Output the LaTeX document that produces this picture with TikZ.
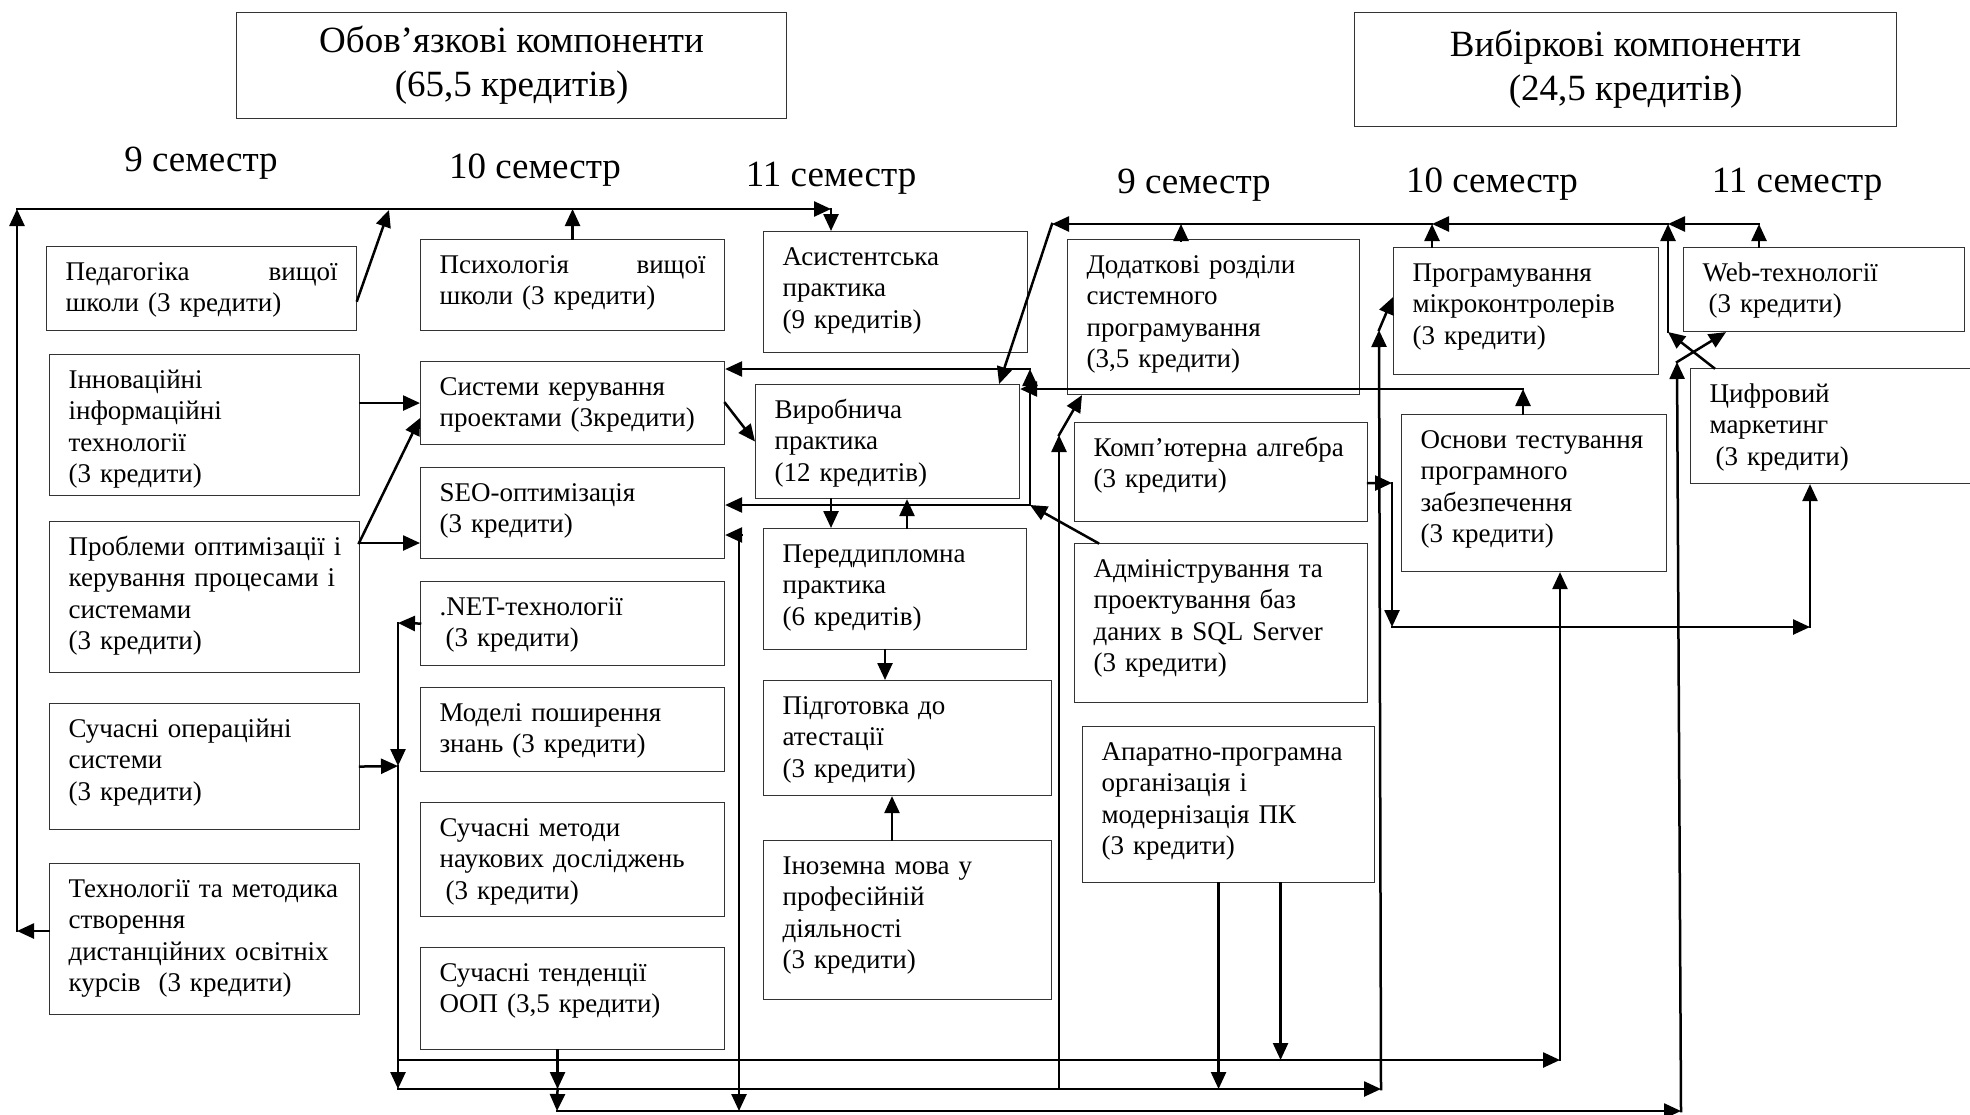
\documentclass[tikz,border=0pt]{standalone}
\usepackage{fontspec}
\setmainfont{Liberation Serif}
\usepackage{tikz}
\usetikzlibrary{arrows.meta}

\newcommand{\boxfont}{\fontsize{27}{31.4}\selectfont}
\newcommand{\headfont}{\fontsize{37}{44}\selectfont}

\begin{document}
\begin{tikzpicture}[x=1pt, y=-1pt]
\tikzset{course/.style 2 args = {draw=black!80, line width=1.1pt, anchor=north west, align=left, font=\boxfont, inner xsep=19pt, inner ysep=0pt, text width=#1pt-38pt, text height=34pt, text depth=#2pt-34pt}}
\tikzset{head/.style 2 args = {draw=black!80, line width=1.1pt, anchor=north west, align=center, font=\headfont, minimum width=#1pt, minimum height=#2pt}}
\tikzset{sem/.style = {font=\headfont}}
\tikzset{edge/.style = {line width=2.5pt, line cap=rect, -{Triangle[length=17pt, width=15pt]}}}
\useasboundingbox (0,0) rectangle (1970,1114);

% headers
\node[head={550}{106}] (hA) at (236,12) {Обов’язкові компоненти\\(65,5 кредитів)};
\node[head={542}{114}] (hB) at (1354,12) {Вибіркові компоненти\\(24,5 кредитів)};
\node[sem] (a9) at (201,163) {9 семестр};
\node[sem] (a10) at (535,170) {10 семестр};
\node[sem] (a11) at (831,178) {11 семестр};
\node[sem] (b9) at (1194,185) {9 семестр};
\node[sem] (b10) at (1492,184) {10 семестр};
\node[sem] (b11) at (1797,184) {11 семестр};

% compulsory
\node[course={310}{84}] (ped) at (46,246) {Педагогіка \hfill вищої\\школи (3 кредити)};
\node[course={310}{141}] (inn) at (49,354) {Інноваційні\\інформаційні\\технології\\(3 кредити)};
\node[course={310}{151}] (prob) at (49,521) {\mbox{Проблеми оптимізації і}\\керування процесами і\\системами\\(3 кредити)};
\node[course={310}{126}] (os) at (49,703) {Сучасні операційні\\системи\\(3 кредити)};
\node[course={310}{151}] (tech) at (49,863) {Технології та методика\\створення\\дистанційних освітніх\\курсів\ \ (3 кредити)};

\node[course={304}{91}] (psy) at (420,239) {Психологія \hfill вищої\\школи (3 кредити)};
\node[course={304}{83}] (sys) at (420,361) {Системи керування\\проектами (3кредити)};
\node[course={304}{91}] (seo) at (420,467) {SEO-оптимізація\\(3 кредити)};
\node[course={304}{84}] (net) at (420,581) {.NET-технології\\\hspace*{6pt}(3 кредити)};
\node[course={304}{84}] (mod) at (420,687) {Моделі поширення\\знань (3 кредити)};
\node[course={304}{114}] (meth) at (420,802) {Сучасні методи\\наукових досліджень\\\hspace*{6pt}(3 кредити)};
\node[course={304}{102}] (oop) at (420,947) {Сучасні тенденції\\ООП (3,5 кредити)};

\node[course={264}{121}] (asyst) at (763,231) {Асистентська\\практика\\(9 кредитів)};
\node[course={264}{114}] (vyr) at (755,384) {Виробнича\\практика\\(12 кредитів)};
\node[course={263}{121}] (pered) at (763,528) {Переддипломна\\практика\\(6 кредитів)};
\node[course={288}{115}] (pidg) at (763,680) {Підготовка до\\атестації\\(3 кредити)};
\node[course={288}{159}] (inoz) at (763,840) {Іноземна мова у\\професійній\\діяльності\\(3 кредити)};

% elective
\node[course={292}{155}] (dod) at (1067,239) {Додаткові розділи\\системного\\програмування\\(3,5 кредити)};
\node[course={293}{99}] (comp) at (1074,422) {Комп’ютерна алгебра\\(3 кредити)};
\node[course={293}{159}] (adm) at (1074,543) {Адміністрування та\\проектування баз\\даних в SQL Server\\(3 кредити)};
\node[course={292}{156}] (apar) at (1082,726) {Апаратно-програмна\\організація і\\модернізація ПК\\(3 кредити)};
\node[course={265}{127}] (micro) at (1393,247) {Програмування\\мікроконтролерів\\(3 кредити)};
\node[course={265}{157}] (ost) at (1401,414) {Основи тестування\\програмного\\забезпечення\\(3 кредити)};
\node[course={281}{84}] (web) at (1683,247) {Web-технології\\\hspace*{6pt}(3 кредити)};
\node[course={300}{115}] (cyfr) at (1690,368) {Цифровий\\маркетинг\\\hspace*{6pt}(3 кредити)};

%edges
\coordinate (tl) at (17,209);
\coordinate (tlb) at (17,931);
\coordinate (tmid) at (389,210);
\coordinate (tr) at (831,209);
\draw[edge] (tech.west |- tlb) -- (tlb);
\draw[edge] (tlb) -- (tl);
\draw[edge] (tl) -- (tr);
\draw[edge] (tr) -- (tr |- asyst.north);
\draw[edge] ([yshift=-12pt]ped.east) -- (tmid);
\draw[edge] (psy.north) -- (psy.north |- tl);

\draw[edge] (inn.east |- sys.west) -- (sys.west);
\coordinate (pj) at (359,543);
\draw[edge] (pj) -- ([yshift=-15pt]sys.west);
\draw[edge] (pj) -- (pj -| seo.west);
\draw[edge] (sys.east) -- (vyr.west);

\coordinate (n1) at (398,623);
\coordinate (n2) at (398,766);
\coordinate (n3) at (398,1089);
\draw[edge] (net.west) -- (n1);
\draw[edge] (n1) -- (n2);
\draw[edge] (os.east) -- (n2);
\draw[edge] (n2) -- (n3);

\coordinate (a1) at (1030,505);
\coordinate (a2) at (1030,369);
\draw[edge] ([xshift=24pt]adm.north west) -- (a1);
\draw[edge] (a1) -- (a2);
\draw[edge] (a2) -- (a2 -| sys.east);
\draw[edge] (a1) -- (a1 -| seo.east);
\draw[edge] ([xshift=76pt]vyr.south west) -- ([xshift=76pt]vyr.south west |- pered.north);
\draw[edge] ([xshift=144pt]pered.north west) -- ([xshift=144pt]pered.north west |- vyr.south);
\draw[edge] ([xshift=122pt]pered.south west) -- ([xshift=122pt]pered.south west |- pidg.north);
\draw[edge] ([xshift=129pt]inoz.north west) -- ([xshift=129pt]inoz.north west |- pidg.south);

% bottom lines
\coordinate (b1) at (398,1060);
\coordinate (b2) at (1560,1060);
\draw[edge] (b1) -- (b2);
\draw[edge] (b2) -- (b2 |- ost.south);
\coordinate (m1) at (1381,1089);
\coordinate (m2) at (1379,330);
\draw[edge] (n3) -- (m1);
\draw[edge] (m1) -- (m2);
\draw[edge] (m2) -- ([yshift=14pt]micro.west);
\coordinate (d1) at (1059,1089);
\coordinate (d2) at (1059,435);
\draw[edge] (d1) -- (d2);
\draw[edge] (d2) -- ([xshift=15pt]dod.south west);
\coordinate (t1) at (557,1111);
\coordinate (t2) at (1681,1111);
\coordinate (t3) at (1677,362);
\draw[edge] (t1) -- (t2);
\draw[edge] (t2) -- (t3);
\draw[edge] (t3) -- ([xshift=43pt]web.south west);
\draw[edge] ([xshift=-15pt]oop.south) -- ([xshift=-15pt]oop.south |- n3);
\draw[edge] ([xshift=-15pt]oop.south |- n3) -- (t1);
\coordinate (s1) at (739,535);
\coordinate (s2) at (739,1111);
\draw[edge] (s1) -- (s1 -| seo.east);
\draw[edge] (s1) -- (s2);
\draw[edge] ([xshift=-10pt]apar.south) -- ([xshift=-10pt]apar.south |- n3);
\draw[edge] ([xshift=52pt]apar.south) -- ([xshift=52pt]apar.south |- b1);

% elective top line
\coordinate (e1) at (1052,224);
\coordinate (e2) at (1432,224);
\coordinate (e3) at (1668,224);
\coordinate (e4) at (1759,224);
\coordinate (e5) at (1668,332);
\draw[edge] (e4) -- (e3);
\draw[edge] (e3) -- (e2);
\draw[edge] (e2) -- (e1);
\draw[edge] (e1) -- ([xshift=-21pt]vyr.north east);
\draw[edge] ([xshift=114pt]dod.north west) -- ([xshift=114pt]dod.north west |- e1);
\draw[edge] (e2 |- micro.north) -- (e2);
\draw[edge] (e4 |- web.north) -- (e4);
\draw[edge] ([xshift=24pt]cyfr.north west) -- (e5);
\draw[edge] (e5) -- (e3);

\coordinate (o1) at (1523,389);
\draw[edge] (ost.north -| o1) -- (o1);
\draw[edge] (o1) -- (o1 -| vyr.east);

\coordinate (k1) at (1392,483);
\coordinate (k2) at (1392,627);
\coordinate (k3) at (1810,627);
\draw[edge] ([yshift=-11pt]comp.east) -- (k1);
\draw[edge] (k1) -- (k2);
\draw[edge] (k2) -- (k3);
\draw[edge] (k3) -- (k3 |- cyfr.south);

\end{tikzpicture}
\end{document}
